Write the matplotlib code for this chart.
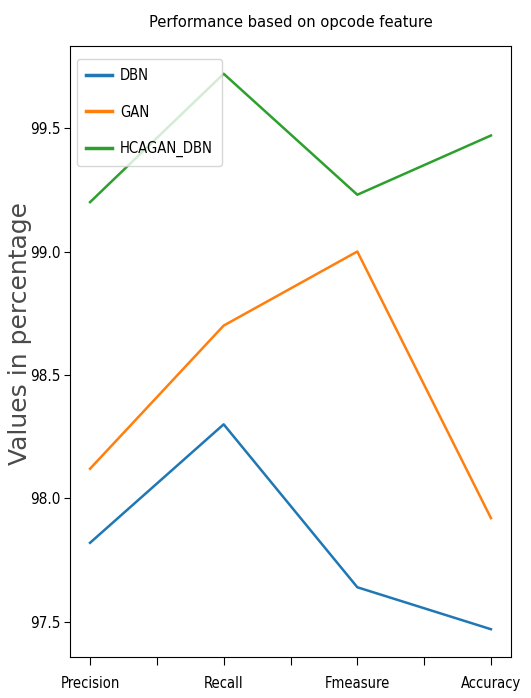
import matplotlib
matplotlib.use("Agg")
import matplotlib.pyplot as plt

categories = ["Precision", "Recall", "Fmeasure", "Accuracy"]
dbn = [97.82, 98.30, 97.64, 97.47]
gan = [98.12, 98.70, 99.00, 97.92]
hcagan_dbn = [99.20, 99.72, 99.23, 99.47]
series = [("DBN", dbn), ("GAN", gan), ("HCAGAN_DBN", hcagan_dbn)]
yticks = [97.5, 98.0, 98.5, 99.0, 99.5]

cond = dict(family="DejaVu Sans", stretch="condensed")

fig = plt.figure(figsize=(5.31, 6.98), dpi=100)
ax = fig.add_axes([70/531, 1-657/698, (511-70)/531, (657-46)/698])

x = list(range(len(categories)))
for name, vals in series:
    ax.plot(x, vals, label=name, linewidth=1.8)

xt = [i * 0.5 for i in range(2 * len(categories) - 1)]
ax.set_xticks(xt)
ax.set_xticklabels([categories[int(t)] if t == int(t) else "" for t in xt], fontdict=dict(size=10.5, **cond))
ax.set_yticks(yticks)
ax.set_yticklabels([f"{v:.1f}" for v in yticks], fontdict=dict(size=11, **cond))
ax.tick_params(axis="x", length=6, pad=8)
ax.tick_params(axis="y", length=4, pad=2.5)
ax.set_ylabel("Values in percentage", fontsize=18, family="DejaVu Sans", color="#4a4a4a")
ax.yaxis.set_label_coords(-0.086, 0.53)
ax.set_title("Performance based on opcode feature", fontsize=11.8, pad=14, **cond)
leg = ax.legend(loc="upper left", bbox_to_anchor=(0.0, 0.99), prop=dict(size=10.6, **cond),
                labelspacing=1.45, borderpad=0.6, handlelength=1.75, handletextpad=0.55)
for l in leg.get_lines():
    l.set_linewidth(2.5)

fig.savefig("out.png", dpi=100)
